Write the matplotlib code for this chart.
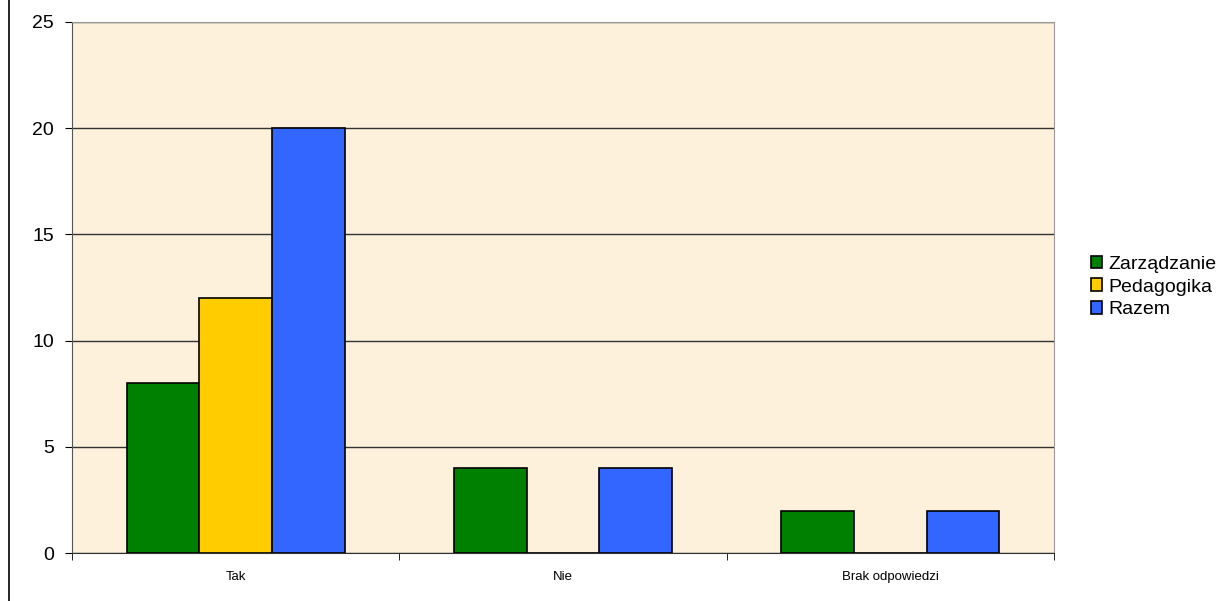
import matplotlib.pyplot as plt
import numpy as np

categories = ["Tak", "Nie", "Brak odpowiedzi"]
series = ["Zarządzanie", "Pedagogika", "Razem"]
zarzadzanie = [8, 4, 2]
pedagogika = [12, 0, 0]
razem = [20, 4, 2]
colors = ["#008000", "#FFCC00", "#3366FF"]

plt.rcParams['font.family'] = ['Liberation Sans', 'DejaVu Sans']

fig = plt.figure(figsize=(12.28, 6.01), dpi=100)
ax = fig.add_axes([72/1228, 48/601, 982/1228, 531/601])
ax.set_facecolor("#FDF1DC")

x = np.arange(len(categories))
w = 0.222
for i, (vals, c, name) in enumerate(zip([zarzadzanie, pedagogika, razem], colors, series)):
    ax.bar(x + (i - 1) * w, vals, w, color=c, edgecolor="black", linewidth=1.2,
           label=name, zorder=3)

ax.set_xlim(-0.5, 2.5)
ax.set_ylim(0, 25)
ax.set_yticks(range(0, 26, 5))
ax.yaxis.grid(True, color="#333333", linewidth=1, zorder=1)
ax.set_xticks(x)
ax.set_xticklabels(categories, fontsize=9.5)
ax.tick_params(axis="x", length=0, pad=13)
ax.set_xticks([-0.5, 0.5, 1.5, 2.5], minor=True)
ax.tick_params(axis="x", which="minor", length=5, color="black")
ax.tick_params(axis="y", labelsize=14, length=5, pad=8)
for s in ["top", "right"]:
    ax.spines[s].set_color("#999999")
ax.spines["left"].set_color("#555555")
ax.spines["bottom"].set_color("#333333")
ax.spines["bottom"].set_zorder(4)

fig.legend(loc="center left", bbox_to_anchor=(1083/1228, 1 - 287/601), frameon=False,
           fontsize=14, handlelength=0.6, handleheight=0.6, handletextpad=0.3,
           labelspacing=0.3, borderaxespad=0)

fig.add_artist(plt.Line2D([9/1228, 9/1228], [0, 1], color="black", linewidth=1.2))

fig.savefig("out.png", dpi=100)
